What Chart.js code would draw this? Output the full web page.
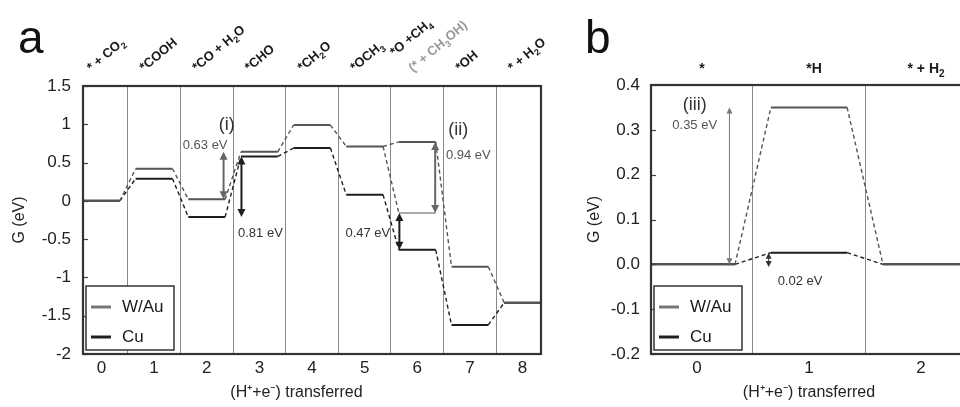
<!DOCTYPE html>
<html>
<head>
<meta charset="utf-8">
<script src="https://cdn.jsdelivr.net/npm/chart.js@4/dist/chart.umd.min.js"></script>
<style>
  body { margin: 0; background: #fff; overflow: hidden; width: 960px; height: 407px; position: relative; }
  #boxA { position: absolute; left: 0; top: 0; width: 560px; height: 407px; }
  #boxB { position: absolute; left: 560px; top: 0; width: 440px; height: 407px; }
</style>
</head>
<body>
<div id="boxA"><canvas id="chartA" width="560" height="407"></canvas></div>
<div id="boxB"><canvas id="chartB" width="440" height="407"></canvas></div>
<script>
// panel a - CO2 reduction steps
const stepsA = [0, 1, 2, 3, 4, 5, 6, 7, 8];
const statesA = ['* + CO₂', '*COOH', '*CO + H₂O', '*CHO', '*CH₂O', '*OCH₃', '*O +CH₄', '*OH', '* + H₂O'];
const altStatesA = ['', '', '', '', '', '', '(* + CH₃OH)', '', ''];
const wauA = [0, 0.42, 0.02, 0.64, 0.99, 0.71, 0.77, -0.86, -1.33];
const cuA = [0, 0.29, -0.21, 0.58, 0.69, 0.08, -0.64, -1.62, -1.33];
const wauMeOH = -0.16;   // W/Au branch *+CH3OH at step 6
const yTicksA = [-2, -1.5, -1, -0.5, 0, 0.5, 1, 1.5];

// panel b - HER steps
const stepsB = [0, 1, 2];
const statesB = ['*', '*H', '* + H₂'];
const wauB = [0, 0.35, 0];
const cuB = [0, 0.026, 0];
const yTicksB = [-0.2, -0.1, 0, 0.1, 0.2, 0.3, 0.4];

const seriesNames = ['W/Au', 'Cu'];

// annotations (data units)
const arrowsA = [
  { x: 2.32, y1: 0.02, y2: 0.64, color: '#666', w: 2 },
  { x: 2.66, y1: -0.21, y2: 0.58, color: '#1e1e1e', w: 2 },
  { x: 5.66, y1: -0.64, y2: -0.16, color: '#1e1e1e', w: 2 },
  { x: 6.34, y1: -0.16, y2: 0.77, color: '#666', w: 2 }
];
const notesA = [
  { x: 2.38, y: 0.99, text: '(i)', size: 18, color: '#333' },
  { x: 1.97, y: 0.73, text: '0.63 eV', size: 13, color: '#555' },
  { x: 3.02, y: -0.42, text: '0.81 eV', size: 13, color: '#333' },
  { x: 5.06, y: -0.42, text: '0.47 eV', size: 13, color: '#333' },
  { x: 6.78, y: 0.93, text: '(ii)', size: 18, color: '#333' },
  { x: 6.97, y: 0.59, text: '0.94 eV', size: 13, color: '#555' }
];
const arrowsB = [
  { x: 0.29, y1: 0, y2: 0.35, color: '#777', w: 1 },
  { x: 0.64, y1: -0.006, y2: 0.026, color: '#333', w: 1 }
];
const notesB = [
  { x: -0.02, y: 0.355, text: '(iii)', size: 18, color: '#333' },
  { x: -0.02, y: 0.31, text: '0.35 eV', size: 13, color: '#555' },
  { x: 0.92, y: -0.038, text: '0.02 eV', size: 13, color: '#333' }
];

const FAM = "'Liberation Sans', Arial, sans-serif";
Chart.defaults.font.family = FAM;
Chart.defaults.color = '#222';

// horizontal level bars, broken by nulls
function levels(steps, vals, hw, xmin, xmax) {
  const pts = [];
  steps.forEach((s, i) => {
    const x0 = i === 0 ? xmin : s - hw;
    const x1 = i === steps.length - 1 ? xmax : s + hw;
    pts.push({ x: x0, y: vals[i] }, { x: x1, y: vals[i] }, { x: x1, y: null });
  });
  return pts;
}

// dashed links between neighbouring levels
function links(steps, vals, hw) {
  const pts = [];
  for (let i = 0; i < steps.length - 1; i++) {
    pts.push({ x: steps[i] + hw, y: vals[i] }, { x: steps[i + 1] - hw, y: vals[i + 1] }, { x: steps[i + 1], y: null });
  }
  return pts;
}

function solid(label, data, color, w) {
  return { label, data, borderColor: color, borderWidth: w || 2, pointRadius: 0, spanGaps: false, order: 0 };
}
function dashed(label, data, color) {
  return { label, data, borderColor: color, borderWidth: 1.4, borderDash: [4, 3], pointRadius: 0, spanGaps: false, order: 1 };
}

function drawArrow(ctx, px, pa, pb, color, w) {
  const top = Math.min(pa, pb), bot = Math.max(pa, pb);
  const hl = w > 1 ? 8 : 6, hh = w > 1 ? 4 : 3;
  ctx.strokeStyle = color; ctx.fillStyle = color; ctx.lineWidth = w;
  ctx.beginPath(); ctx.moveTo(px, top + hl - 1); ctx.lineTo(px, bot - hl + 1); ctx.stroke();
  ctx.beginPath(); ctx.moveTo(px, top); ctx.lineTo(px - hh, top + hl); ctx.lineTo(px + hh, top + hl); ctx.closePath(); ctx.fill();
  ctx.beginPath(); ctx.moveTo(px, bot); ctx.lineTo(px - hh, bot - hl); ctx.lineTo(px + hh, bot - hl); ctx.closePath(); ctx.fill();
}

// bold text with real subscript digits
const SUBS = '₀₁₂₃₄₅₆₇₈₉';
function richWidth(ctx, text, size) {
  let w = 0;
  for (const ch of text) {
    const k = SUBS.indexOf(ch);
    ctx.font = 'bold ' + (k >= 0 ? Math.round(size * 0.72) : size) + 'px ' + FAM;
    w += ctx.measureText(k >= 0 ? String(k) : ch).width;
  }
  return w;
}
function drawRich(ctx, text, x, y, size) {
  let cx = x;
  ctx.textAlign = 'left';
  for (const ch of text) {
    const k = SUBS.indexOf(ch);
    const t = k >= 0 ? String(k) : ch;
    ctx.font = 'bold ' + (k >= 0 ? Math.round(size * 0.72) : size) + 'px ' + FAM;
    ctx.fillText(t, cx, k >= 0 ? y + size * 0.28 : y);
    cx += ctx.measureText(t).width;
  }
}

function framePlugin(cfg) {
  return {
    id: 'frame' + cfg.letter,
    afterDraw(chart) {
      const { ctx, chartArea: a } = chart;
      const x = chart.scales.x, y = chart.scales.y;
      ctx.save();
      // inward y ticks
      ctx.strokeStyle = '#444'; ctx.lineWidth = 1.2;
      y.ticks.forEach(t => {
        const py = Math.round(y.getPixelForValue(t.value)) + 0.5;
        ctx.beginPath(); ctx.moveTo(a.left, py); ctx.lineTo(a.left + 5, py); ctx.stroke();
      });
      // box
      ctx.strokeStyle = '#333'; ctx.lineWidth = 2.2;
      ctx.strokeRect(a.left, a.top, a.right - a.left, a.bottom - a.top);

      cfg.arrows.forEach(ar => drawArrow(ctx, x.getPixelForValue(ar.x), y.getPixelForValue(ar.y1), y.getPixelForValue(ar.y2), ar.color, ar.w));

      ctx.textAlign = 'center'; ctx.textBaseline = 'middle';
      cfg.notes.forEach(n => {
        ctx.font = n.size + 'px ' + FAM;
        ctx.fillStyle = n.color;
        ctx.fillText(n.text, x.getPixelForValue(n.x), y.getPixelForValue(n.y));
      });

      // state labels above the plot
      const sz = cfg.stateSize;
      cfg.steps.forEach((s, i) => {
        const px = x.getPixelForValue(s);
        if (cfg.angle) {
          ctx.save();
          ctx.translate(px - 10, 72);
          ctx.rotate(-cfg.angle * Math.PI / 180);
          ctx.textBaseline = 'alphabetic';
          ctx.fillStyle = '#1a1a1a';
          if (cfg.alt[i]) {
            drawRich(ctx, cfg.states[i], 0, -20, sz);
            ctx.fillStyle = '#999';
            drawRich(ctx, cfg.alt[i], 4, 4, sz);
          } else {
            drawRich(ctx, cfg.states[i], 0, 0, sz);
          }
          ctx.restore();
        } else {
          ctx.fillStyle = '#1a1a1a';
          ctx.textBaseline = 'alphabetic';
          const w = richWidth(ctx, cfg.states[i], sz);
          drawRich(ctx, cfg.states[i], px + 5 - w / 2, 73, sz);
        }
      });

      // legend box
      const lx = a.left + 3, ly = a.bottom - 68;
      ctx.fillStyle = '#fff'; ctx.fillRect(lx, ly, 88, 64);
      ctx.strokeStyle = '#333'; ctx.lineWidth = 1.5; ctx.strokeRect(lx, ly, 88, 64);
      ctx.font = '17px ' + FAM;
      ctx.textAlign = 'left'; ctx.textBaseline = 'middle';
      [['#777', 21], ['#1e1e1e', 51]].forEach(([c, dy], k) => {
        ctx.strokeStyle = c; ctx.lineWidth = 3;
        ctx.beginPath(); ctx.moveTo(lx + 5, ly + dy); ctx.lineTo(lx + 25, ly + dy); ctx.stroke();
        ctx.fillStyle = '#1a1a1a';
        ctx.fillText(seriesNames[k], lx + 36, ly + dy);
      });

      // panel letter
      ctx.font = '46px ' + FAM;
      ctx.textBaseline = 'alphabetic';
      ctx.fillStyle = '#111';
      ctx.fillText(cfg.letter, cfg.letterX, 53);
      ctx.restore();
    }
  };
}

function makeChart(id, o) {
  return new Chart(document.getElementById(id), {
    type: 'line',
    data: { datasets: o.datasets },
    options: {
      responsive: false,
      animation: false,
      events: [],
      layout: { padding: o.padding },
      plugins: { legend: { display: false }, tooltip: { enabled: false } },
      scales: {
        x: {
          type: 'linear', min: o.xmin, max: o.xmax,
          afterBuildTicks: s => { s.ticks = o.steps.map(v => ({ value: v })); },
          afterFit: s => { s.height = 53; },
          grid: { offset: true, color: '#8a8a8a', lineWidth: 1, drawTicks: false },
          border: { display: false },
          ticks: { font: { size: 17 }, padding: 4, callback: v => String(v) },
          title: { display: true, text: o.xTitle, font: { size: 16 }, padding: { top: 0, bottom: 5 } }
        },
        y: {
          min: o.ymin, max: o.ymax,
          afterBuildTicks: s => { s.ticks = o.yTicks.map(v => ({ value: v })); },
          afterFit: s => { s.width = o.yWidth; },
          grid: { display: false, drawTicks: false },
          border: { display: false },
          ticks: { font: { size: 17 }, padding: o.tickPad, callback: o.fmt },
          title: { display: true, text: 'G (eV)', font: { size: 16 }, padding: { top: o.yTitlePad, bottom: 0 } }
        }
      }
    },
    plugins: [framePlugin(o.frame)]
  });
}

const hwA = 0.35, xminA = -0.35, xmaxA = 8.35;
makeChart('chartA', {
  steps: stepsA, xmin: xminA, xmax: xmaxA, ymin: -2, ymax: 1.5, yTicks: yTicksA,
  padding: { left: 0, top: 86, right: 19, bottom: 0 }, yWidth: 83, tickPad: 12, yTitlePad: 10,
  xTitle: '(H⁺+e⁻) transferred       ', fmt: v => String(v),
  datasets: [
    solid('W/Au', levels(stepsA, wauA, hwA, xminA, xmaxA), '#555'),
    solid('Cu', levels(stepsA, cuA, hwA, xminA, xmaxA), '#1e1e1e'),
    solid('W/Au *+CH3OH', [{ x: 6 - hwA, y: wauMeOH }, { x: 6 + hwA, y: wauMeOH }], '#aaa'),
    dashed('W/Au link', links(stepsA, wauA, hwA), '#555'),
    dashed('Cu link', links(stepsA, cuA, hwA), '#1e1e1e'),
    dashed('W/Au link CH3OH', [{ x: 5 + hwA, y: wauA[5] }, { x: 6 - hwA, y: wauMeOH }], '#555')
  ],
  frame: { letter: 'a', letterX: 18, steps: stepsA, states: statesA, alt: altStatesA, angle: 40, stateSize: 13, arrows: arrowsA, notes: notesA }
});

const hwB = 0.34, xminB = -0.41, xmaxB = 2.41;
makeChart('chartB', {
  steps: stepsB, xmin: xminB, xmax: xmaxB, ymin: -0.2, ymax: 0.4, yTicks: yTicksB,
  padding: { left: 0, top: 85, right: 33, bottom: 0 }, yWidth: 91, tickPad: 11, yTitlePad: 25,
  xTitle: '(H⁺+e⁻) transferred', fmt: v => v.toFixed(1),
  datasets: [
    solid('W/Au', levels(stepsB, wauB, hwB, xminB, xmaxB), '#555'),
    solid('Cu', levels(stepsB, cuB, hwB, xminB, xmaxB), '#1e1e1e'),
    dashed('W/Au link', links(stepsB, wauB, hwB), '#555'),
    dashed('Cu link', links(stepsB, cuB, hwB), '#1e1e1e')
  ],
  frame: { letter: 'b', letterX: 25, steps: stepsB, states: statesB, alt: ['', '', ''], angle: 0, stateSize: 14, arrows: arrowsB, notes: notesB }
});
</script>
</body>
</html>
